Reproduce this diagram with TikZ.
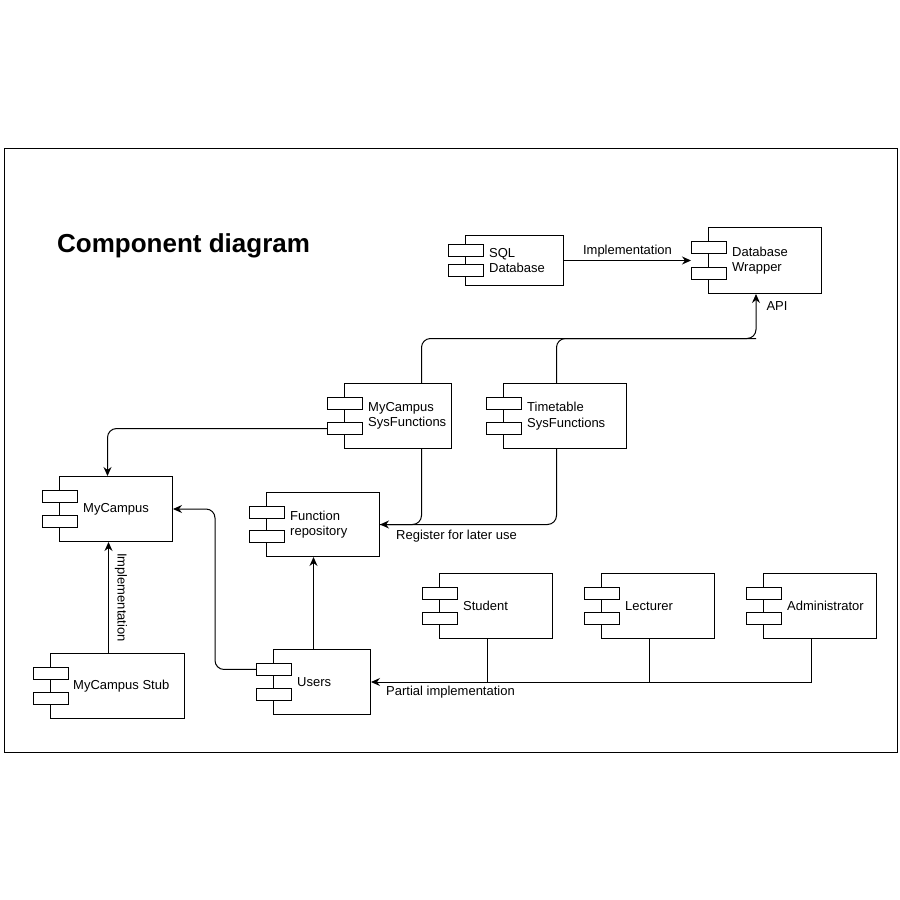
\documentclass[tikz,border=0pt]{standalone}
\usepackage{fontspec}
\setmainfont{Liberation Sans}
\usetikzlibrary{arrows.meta,calc}

\begin{document}
\begin{tikzpicture}[x=1pt,y=-1pt,
	comp/.style={draw,line width=1pt,anchor=north west,inner sep=0pt},
	bar/.style={draw,fill=white,line width=1pt},
	txt/.style={font=\fontsize{13}{15.5}\selectfont,align=left,inner sep=0pt},
	plain/.style={line width=1pt},
	elbow/.style={line width=1pt,rounded corners=9pt},
	tip/.style={-{Stealth[length=9pt,width=8pt,inset=3pt]}}]
	\useasboundingbox (0,0) rectangle (900,900);
	\draw[line width=1pt] (4,148) rectangle (897,752);
	\node[font=\bfseries\fontsize{26}{30}\selectfont,anchor=base west,inner sep=0pt] (title) at (57,252) {Component diagram};

	\node[comp,minimum width=98pt,minimum height=50pt] (sql) at (465,235) {};
	\node[comp,minimum width=113pt,minimum height=66pt] (wrapper) at (708,227) {};
	\node[comp,minimum width=107pt,minimum height=65pt] (sysmc) at (344,383) {};
	\node[comp,minimum width=123pt,minimum height=65pt] (systt) at (503,383) {};
	\node[comp,minimum width=113pt,minimum height=64pt] (repo) at (266,492) {};
	\node[comp,minimum width=113pt,minimum height=65pt] (mycampus) at (59,476) {};
	\node[comp,minimum width=134pt,minimum height=65pt] (stub) at (50,653) {};
	\node[comp,minimum width=97pt,minimum height=65pt] (users) at (273,649) {};
	\node[comp,minimum width=113pt,minimum height=65pt] (student) at (439,573) {};
	\node[comp,minimum width=113pt,minimum height=65pt] (lecturer) at (601,573) {};
	\node[comp,minimum width=113pt,minimum height=65pt] (admin) at (763,573) {};

	\foreach \n in {sql,wrapper,sysmc,systt,repo,mycampus,stub,users,student,lecturer,admin} {
		\draw[bar] ($(\n.west)!0.38!(\n.north west)+(-17,-6)$) rectangle ++(35,12);
		\draw[bar] ($(\n.west)!0.38!(\n.south west)+(-17,-6)$) rectangle ++(35,12);
	}

	\node[txt,anchor=west] (sql-t) at ([xshift=24pt]sql.west) {SQL\\Database};
	\node[txt,anchor=west] (wrapper-t) at ([xshift=24pt]wrapper.west) {Database\\Wrapper};
	\node[txt,anchor=west] (sysmc-t) at ([xshift=24pt]sysmc.west) {MyCampus\\SysFunctions};
	\node[txt,anchor=west] (systt-t) at ([xshift=24pt]systt.west) {Timetable\\SysFunctions};
	\node[txt,anchor=west] (repo-t) at ([xshift=24pt]repo.west) {Function\\repository};
	\node[txt,anchor=west] (mycampus-t) at ([xshift=24pt]mycampus.west) {MyCampus};
	\node[txt,anchor=west] (stub-t) at ([xshift=23pt]stub.west) {MyCampus Stub};
	\node[txt,anchor=west] (users-t) at ([xshift=24pt]users.west) {Users};
	\node[txt,anchor=west] (student-t) at ([xshift=24pt]student.west) {Student};
	\node[txt,anchor=west] (lecturer-t) at ([xshift=24pt]lecturer.west) {Lecturer};
	\node[txt,anchor=west] (admin-t) at ([xshift=24pt]admin.west) {Administrator};

	\draw[plain,tip] (sql.east) -- ([xshift=-17pt]wrapper.west |- sql.east)
		node[midway,above=3pt,txt] (impl-l) {Implementation};

	\coordinate (apibus) at (756,338.5);
	\draw[elbow] ([xshift=23.5pt]sysmc.north) |- (apibus);
	\draw[elbow,tip] ([xshift=-8.5pt]systt.north) |- (apibus) -- (apibus |- wrapper.south)
		node[pos=0.73,right=10pt,txt] (api-l) {API};

	\draw[elbow,tip] ($(sysmc.west)!0.38!(sysmc.south west)+(-17,0)$) -| ([xshift=-8.5pt]mycampus.north);

	\draw[elbow] ([xshift=23.5pt]sysmc.south) |- (repo.east);
	\draw[elbow,tip] ([xshift=-8.5pt]systt.south) |- (repo.east);
	\node[txt,anchor=north west] (reg-l) at ([xshift=16pt,yshift=-5pt]repo.east) {Register for later use};

	\draw[elbow,tip] ($(users.west)!0.38!(users.north west)+(-17,0)$) -| ([xshift=42pt]mycampus.east) -- (mycampus.east);
	\draw[plain,tip] ([xshift=-8.5pt]users.north) -- ([xshift=-8.5pt]users.north |- repo.south);

	\draw[plain,tip] ([xshift=-9pt]stub.north) -- ([xshift=-9pt]stub.north |- mycampus.south)
		node[midway,anchor=south,rotate=-90,txt,inner sep=6pt] (stub-l) {Implementation};

	\draw[plain] ([xshift=-8.5pt]student.south) -- ([xshift=-8.5pt]student.south |- users.east);
	\draw[plain] ([xshift=-8.5pt]lecturer.south) -- ([xshift=-8.5pt]lecturer.south |- users.east);
	\draw[plain,tip] ([xshift=-8.5pt]admin.south) |- (users.east);
	\node[txt,anchor=north west] (part-l) at ([xshift=15pt,yshift=-4pt]users.east) {Partial implementation};
\end{tikzpicture}
\end{document}
